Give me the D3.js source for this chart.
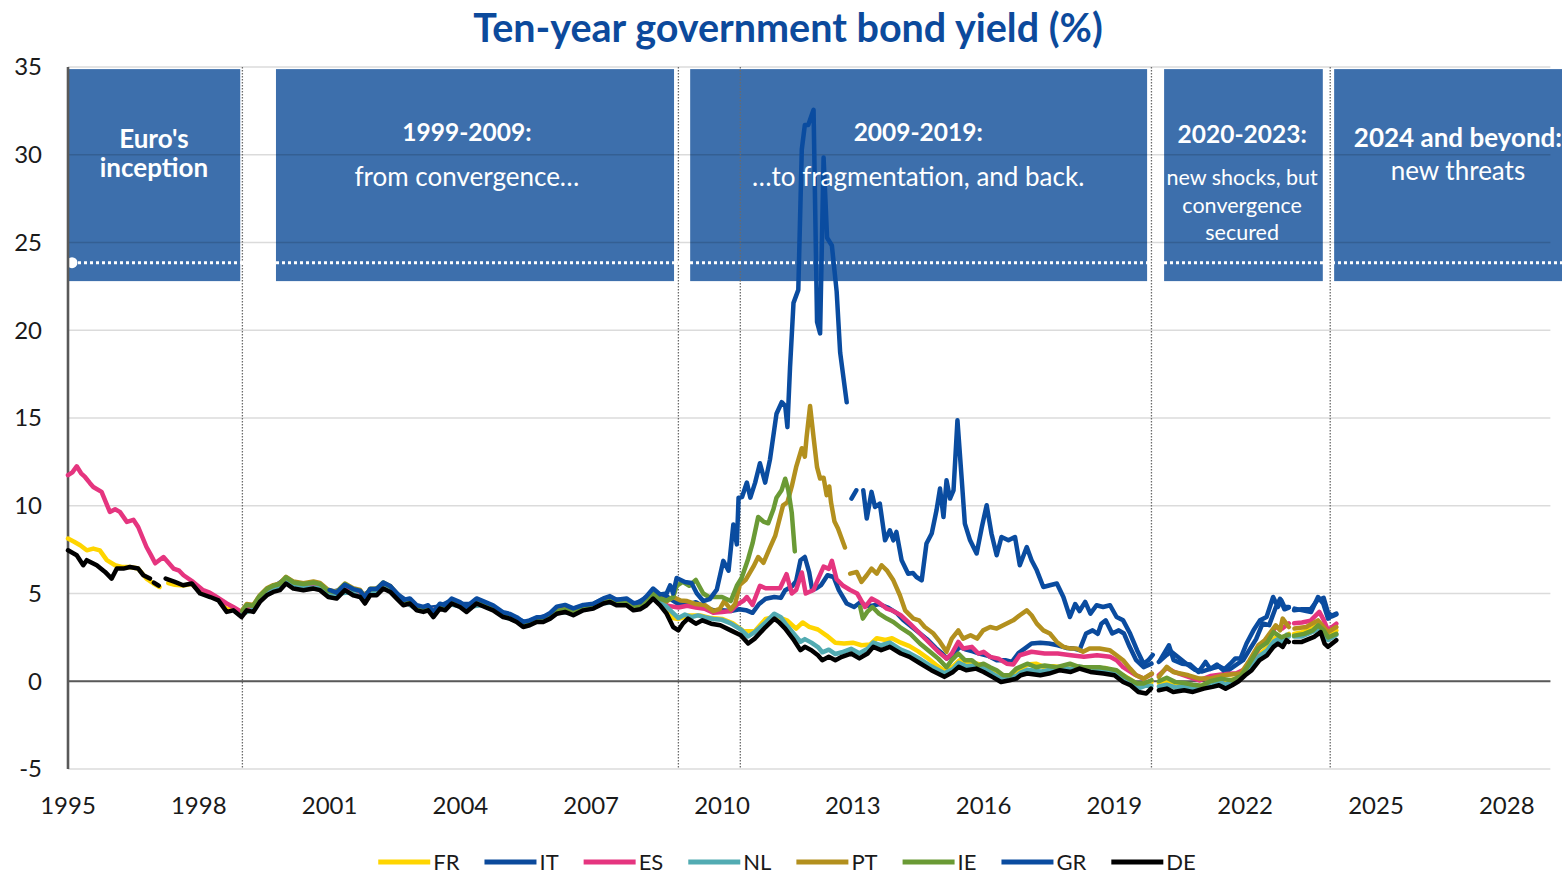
<!DOCTYPE html>
<html>
<head>
<meta charset="utf-8">
<style>
  body { margin: 0; background: #fff; }
  svg text { font-family: Lato, "Open Sans", sans-serif; }
</style>
</head>
<body>
<div id="chart"></div>
<script src="https://cdn.jsdelivr.net/npm/d3@7"></script>
<script>
'use strict';

// ---- data: [year, yield %], null = gap in the source series ----
var FR = [[1995.0,8.13],[1995.14,7.95],[1995.28,7.75],[1995.43,7.46],[1995.58,7.56],[1995.73,7.46],[1995.89,6.9],[1996.08,6.61],[1996.23,6.51],[1996.42,6.51],[1996.61,6.42],[1996.8,5.85],[1996.96,5.57],[1997.1,5.37],[1997.18,null],[1997.3,5.6],[1997.45,5.5],[1997.64,5.45],[1997.84,5.55],[1998.03,5.1],[1998.26,4.88],[1998.45,4.68],[1998.64,4.1],[1998.79,4.12],[1998.98,3.82],
  [1999.25,4.1],[1999.5,4.9],[1999.75,5.27],[2000.0,5.72],[2000.25,5.4],[2000.5,5.35],[2000.75,5.35],[2001.0,4.93],[2001.25,5.05],[2001.5,5.1],[2001.75,4.75],[2002.0,5.05],[2002.25,5.4],[2002.5,4.95],[2002.75,4.55],[2003.0,4.17],[2003.25,4.1],[2003.5,4.15],[2003.75,4.45],[2004.0,4.3],[2004.25,4.3],[2004.5,4.4],[2004.75,4.12],[2005.0,3.72],[2005.25,3.47],[2005.5,3.22],[2005.75,3.45],[2006.0,3.57],[2006.25,3.95],[2006.5,3.92],[2006.75,4.05],[2007.0,4.19],[2007.25,4.47],[2007.5,4.5],[2007.75,4.45],[2008.0,4.15],[2008.25,4.5],[2008.5,4.8],[2008.75,4.1],[2008.88,3.6],
  [2009.0,3.55],[2009.25,3.75],[2009.5,3.75],[2009.75,3.6],[2010.0,3.55],[2010.25,3.3],[2010.5,2.85],[2010.75,2.85],[2011.0,3.55],[2011.25,3.7],[2011.5,3.45],[2011.7,3.0],[2011.85,3.35],[2012.0,3.1],[2012.2,2.95],[2012.4,2.6],[2012.6,2.2],[2012.8,2.15],[2013.0,2.2],[2013.2,2.05],[2013.4,2.1],[2013.55,2.45],[2013.75,2.35],[2013.9,2.45],[2014.1,2.2],[2014.3,2.0],[2014.5,1.7],[2014.7,1.35],[2014.9,0.95],[2015.1,0.6],[2015.3,0.85],[2015.45,1.2],[2015.6,1.05],[2015.85,1.0],[2016.0,0.9],[2016.2,0.55],[2016.4,0.4],[2016.6,0.2],[2016.85,0.7],[2017.0,0.95],[2017.2,1.0],[2017.4,0.8],[2017.6,0.85],[2017.8,0.8],[2018.0,0.85],[2018.2,0.85],[2018.4,0.75],[2018.6,0.7],[2018.8,0.75],[2019.0,0.55],[2019.2,0.35],[2019.4,0.05],[2019.55,-0.3],[2019.7,-0.1],[2019.85,-0.05],[2019.93,null],
  [2020.02,-0.1],[2020.2,0.0],[2020.4,-0.1],[2020.6,-0.15],[2020.8,-0.3],[2021.0,-0.25],[2021.2,-0.05],[2021.4,0.15],[2021.6,0.05],[2021.8,0.15],[2022.0,0.5],[2022.2,1.1],[2022.4,1.7],[2022.55,2.0],[2022.7,2.5],[2022.85,2.5],[2023.0,2.7],[2023.06,null],[2023.12,2.7],[2023.3,2.8],[2023.5,2.95],[2023.7,3.3],[2023.8,3.1],[2023.9,2.6],[2024.09,2.9]];

var IT = [[1999.0,4.0],[1999.25,4.25],[1999.5,5.05],[1999.75,5.42],[2000.0,5.87],[2000.25,5.55],[2000.5,5.5],[2000.75,5.5],[2001.0,5.08],[2001.25,5.2],[2001.5,5.25],[2001.75,4.9],[2002.0,5.2],[2002.25,5.5],[2002.5,5.05],[2002.75,4.62],[2003.0,4.24],[2003.25,4.18],[2003.5,4.25],[2003.75,4.55],[2004.0,4.4],[2004.25,4.4],[2004.5,4.5],[2004.75,4.24],[2005.0,3.85],[2005.25,3.6],[2005.5,3.35],[2005.75,3.6],[2006.0,3.75],[2006.25,4.12],[2006.5,4.1],[2006.75,4.22],[2007.0,4.35],[2007.25,4.65],[2007.5,4.68],[2007.75,4.6],[2008.0,4.4],[2008.25,4.75],[2008.5,5.0],[2008.75,4.8],
  [2009.0,4.4],[2009.2,4.35],[2009.4,4.5],[2009.6,4.2],[2009.8,4.05],[2010.0,4.05],[2010.2,4.0],[2010.4,4.1],[2010.55,4.05],[2010.7,3.9],[2010.85,4.4],[2011.0,4.7],[2011.2,4.8],[2011.35,4.75],[2011.45,5.19],[2011.6,5.4],[2011.7,5.7],[2011.8,6.89],[2011.9,7.08],[2012.0,6.2],[2012.07,5.19],[2012.17,5.3],[2012.27,5.47],[2012.42,6.04],[2012.56,5.94],[2012.68,5.19],[2012.86,4.43],[2013.03,4.23],[2013.18,4.52],[2013.3,4.3],[2013.45,4.3],[2013.6,4.4],[2013.8,4.2],[2014.0,3.9],[2014.15,3.5],[2014.3,3.2],[2014.5,2.8],[2014.7,2.4],[2014.9,1.9],[2015.05,1.58],[2015.15,1.3],[2015.3,1.5],[2015.45,1.96],[2015.6,1.8],[2015.75,1.7],[2015.9,1.58],[2016.1,1.45],[2016.3,1.2],[2016.5,1.2],[2016.65,1.1],[2016.8,1.6],[2016.95,1.87],[2017.1,2.15],[2017.3,2.2],[2017.5,2.15],[2017.7,2.05],[2017.9,1.9],[2018.05,1.87],[2018.2,1.77],[2018.35,2.72],[2018.5,2.9],[2018.62,2.7],[2018.7,3.28],[2018.8,3.47],[2018.95,2.72],[2019.1,2.9],[2019.22,2.72],[2019.35,1.96],[2019.5,1.2],[2019.67,0.8],[2019.85,1.0],[2019.93,null],
  [2020.02,1.1],[2020.2,1.5],[2020.3,1.7],[2020.45,1.4],[2020.65,1.0],[2020.85,0.65],[2021.0,0.55],[2021.2,0.7],[2021.4,0.85],[2021.6,0.6],[2021.8,0.95],[2021.95,1.2],[2022.1,1.8],[2022.25,2.4],[2022.4,3.3],[2022.55,3.2],[2022.7,4.2],[2022.8,4.7],[2022.9,4.1],[2023.0,4.2],[2023.06,null],[2023.12,4.05],[2023.3,4.1],[2023.5,4.1],[2023.65,4.6],[2023.8,4.75],[2023.9,3.9],[2024.0,3.7],[2024.09,3.8]];

var ES = [[1995.0,11.74],[1995.1,11.9],[1995.2,12.25],[1995.3,11.85],[1995.39,11.64],[1995.5,11.3],[1995.58,11.07],[1995.77,10.79],[1995.96,9.65],[1996.08,9.8],[1996.19,9.65],[1996.35,9.08],[1996.5,9.2],[1996.61,8.79],[1996.8,7.65],[1996.9,7.2],[1997.0,6.72],[1997.19,7.08],[1997.42,6.42],[1997.55,6.3],[1997.65,6.04],[1997.87,5.66],[1998.1,5.19],[1998.25,5.05],[1998.41,4.8],[1998.64,4.43],[1998.79,4.23],[1998.98,3.95],[1999.17,4.23],
  [1999.3,4.2],[1999.5,5.0],[1999.75,5.37],[2000.0,5.82],[2000.25,5.5],[2000.5,5.45],[2000.75,5.45],[2001.0,5.03],[2001.25,5.15],[2001.5,5.2],[2001.75,4.85],[2002.0,5.15],[2002.25,5.5],[2002.5,5.03],[2002.75,4.5],[2003.0,4.12],[2003.25,4.06],[2003.5,4.13],[2003.75,4.43],[2004.0,4.28],[2004.25,4.28],[2004.5,4.38],[2004.75,4.12],[2005.0,3.73],[2005.25,3.48],[2005.5,3.23],[2005.75,3.46],[2006.0,3.58],[2006.25,3.96],[2006.5,3.93],[2006.75,4.06],[2007.0,4.2],[2007.25,4.48],[2007.5,4.52],[2007.75,4.45],[2008.0,4.2],[2008.25,4.55],[2008.5,4.85],[2008.75,4.3],
  [2009.0,4.2],[2009.2,4.3],[2009.4,4.2],[2009.6,4.13],[2009.8,3.9],[2010.0,3.95],[2010.2,4.0],[2010.34,4.35],[2010.5,4.6],[2010.57,4.8],[2010.7,4.35],[2010.87,5.44],[2011.0,5.3],[2011.33,5.3],[2011.48,6.1],[2011.6,5.0],[2011.7,5.2],[2011.83,6.2],[2011.92,5.0],[2012.1,5.2],[2012.2,5.8],[2012.33,6.53],[2012.45,6.4],[2012.52,6.86],[2012.63,5.8],[2012.78,5.44],[2012.94,5.2],[2013.1,5.0],[2013.28,4.23],[2013.43,4.71],[2013.58,4.52],[2013.78,4.14],[2013.9,4.04],[2014.1,3.76],[2014.31,3.28],[2014.54,2.72],[2014.77,2.15],[2014.96,1.68],[2015.15,1.29],[2015.27,1.58],[2015.42,2.24],[2015.53,1.87],[2015.73,1.96],[2015.88,1.58],[2016.0,1.68],[2016.15,1.39],[2016.34,1.29],[2016.53,1.0],[2016.68,0.95],[2016.83,1.48],[2017.1,1.68],[2017.4,1.58],[2017.7,1.58],[2018.0,1.48],[2018.3,1.39],[2018.6,1.48],[2018.9,1.39],[2019.05,1.2],[2019.2,0.8],[2019.45,0.4],[2019.67,0.15],[2019.85,0.4],[2019.93,null],
  [2020.02,0.35],[2020.2,0.75],[2020.4,0.5],[2020.7,0.25],[2020.95,0.05],[2021.2,0.3],[2021.5,0.4],[2021.8,0.45],[2022.0,0.7],[2022.2,1.4],[2022.4,2.2],[2022.55,2.5],[2022.7,3.1],[2022.85,3.0],[2023.0,3.3],[2023.06,null],[2023.12,3.3],[2023.3,3.35],[2023.5,3.45],[2023.7,3.95],[2023.8,3.5],[2023.9,2.9],[2024.09,3.28]];

var NL = [[1999.0,3.85],[1999.25,4.08],[1999.5,4.88],[1999.75,5.25],[2000.0,5.7],[2000.25,5.38],[2000.5,5.33],[2000.75,5.33],[2001.0,4.9],[2001.25,5.02],[2001.5,5.07],[2001.75,4.72],[2002.0,5.02],[2002.25,5.37],[2002.5,4.92],[2002.75,4.5],[2003.0,4.1],[2003.25,4.04],[2003.5,4.1],[2003.75,4.4],[2004.0,4.26],[2004.25,4.26],[2004.5,4.35],[2004.75,4.1],[2005.0,3.7],[2005.25,3.45],[2005.5,3.2],[2005.75,3.43],[2006.0,3.55],[2006.25,3.93],[2006.5,3.9],[2006.75,4.03],[2007.0,4.17],[2007.25,4.45],[2007.5,4.48],[2007.75,4.42],[2008.0,4.15],[2008.25,4.5],[2008.5,4.8],[2008.75,4.2],
  [2009.0,3.6],[2009.15,3.8],[2009.3,3.65],[2009.45,3.75],[2009.6,3.65],[2009.8,3.55],[2010.0,3.5],[2010.2,3.3],[2010.43,2.95],[2010.6,2.55],[2010.75,2.8],[2011.0,3.35],[2011.2,3.85],[2011.35,3.65],[2011.45,3.3],[2011.65,2.7],[2011.8,2.25],[2011.9,2.4],[2012.05,2.2],[2012.2,1.95],[2012.3,1.65],[2012.45,1.8],[2012.6,1.55],[2012.75,1.65],[2012.96,1.85],[2013.15,1.6],[2013.34,1.85],[2013.47,2.2],[2013.65,2.05],[2013.85,2.2],[2014.1,1.8],[2014.3,1.6],[2014.55,1.25],[2014.8,0.85],[2015.1,0.45],[2015.3,0.7],[2015.43,1.05],[2015.6,0.85],[2015.83,0.9],[2016.0,0.75],[2016.2,0.45],[2016.4,0.15],[2016.6,0.2],[2016.75,0.3],[2016.85,0.5],[2017.0,0.65],[2017.3,0.55],[2017.5,0.65],[2017.75,0.8],[2018.0,0.7],[2018.2,0.85],[2018.45,0.7],[2018.75,0.6],[2019.0,0.5],[2019.2,0.15],[2019.37,-0.05],[2019.55,-0.4],[2019.72,-0.25],[2019.85,-0.25],[2019.93,null],
  [2020.02,-0.3],[2020.2,-0.2],[2020.4,-0.35],[2020.6,-0.3],[2020.8,-0.45],[2021.05,-0.25],[2021.2,-0.15],[2021.4,0.0],[2021.55,-0.2],[2021.7,0.0],[2021.85,0.15],[2022.0,0.5],[2022.15,0.85],[2022.33,1.45],[2022.5,1.75],[2022.65,2.25],[2022.75,2.4],[2022.86,2.25],[2022.95,2.65],[2023.0,2.55],[2023.06,null],[2023.12,2.55],[2023.3,2.55],[2023.58,2.85],[2023.73,3.1],[2023.82,2.5],[2023.9,2.35],[2024.09,2.65]];

var PT = [[1999.0,4.05],[1999.1,4.4],[1999.25,4.35],[1999.4,4.9],[1999.56,5.3],[1999.71,5.48],[1999.86,5.58],[2000.0,5.95],[2000.17,5.68],[2000.4,5.58],[2000.63,5.68],[2000.78,5.6],[2000.97,5.2],[2001.16,5.1],[2001.35,5.57],[2001.54,5.3],[2001.7,5.2],[2001.81,4.82],[2001.93,5.27],[2002.08,5.27],[2002.23,5.6],[2002.39,5.43],[2002.54,5.0],[2002.69,4.6],[2002.84,4.65],[2003.0,4.25],[2003.15,4.14],[2003.26,4.24],[2003.38,3.85],[2003.53,4.33],[2003.65,4.24],[2003.8,4.63],[2003.99,4.42],[2004.14,4.14],[2004.37,4.63],[2004.56,4.42],[2004.75,4.22],[2004.98,3.84],[2005.13,3.75],[2005.29,3.55],[2005.44,3.25],[2005.59,3.35],[2005.75,3.55],[2005.9,3.55],[2006.06,3.75],[2006.21,4.02],[2006.4,4.12],[2006.59,3.93],[2006.82,4.2],[2007.05,4.3],[2007.28,4.6],[2007.43,4.7],[2007.58,4.52],[2007.81,4.55],[2007.97,4.3],[2008.12,4.3],[2008.27,4.65],[2008.42,5.0],[2008.58,4.75],[2008.73,4.55],[2008.88,4.8],
  [2009.05,4.6],[2009.2,4.57],[2009.4,4.4],[2009.6,4.35],[2009.8,4.0],[2009.95,4.13],[2010.05,4.57],[2010.2,4.1],[2010.3,4.4],[2010.41,5.5],[2010.55,5.8],[2010.72,6.53],[2010.83,7.08],[2010.95,6.75],[2011.1,7.62],[2011.22,8.28],[2011.4,10.02],[2011.5,10.2],[2011.6,11.1],[2011.7,12.2],[2011.83,13.28],[2011.9,12.8],[2011.94,13.9],[2012.02,15.68],[2012.1,13.9],[2012.18,12.2],[2012.25,11.55],[2012.33,11.6],[2012.4,10.6],[2012.46,11.1],[2012.5,10.2],[2012.58,9.1],[2012.66,8.7],[2012.82,7.62],[2012.88,null],
  [2012.94,6.13],[2013.09,6.23],[2013.2,5.66],[2013.32,6.04],[2013.43,6.42],[2013.55,6.13],[2013.66,6.61],[2013.78,6.32],[2013.93,5.75],[2014.08,4.9],[2014.2,4.04],[2014.39,3.57],[2014.52,3.47],[2014.65,3.09],[2014.85,2.72],[2015.0,2.24],[2015.15,1.68],[2015.27,2.43],[2015.42,2.9],[2015.53,2.43],[2015.7,2.62],[2015.85,2.43],[2015.99,2.9],[2016.15,3.09],[2016.3,3.0],[2016.45,3.19],[2016.68,3.47],[2016.83,3.76],[2016.99,4.04],[2017.1,3.76],[2017.22,3.28],[2017.37,2.9],[2017.52,2.72],[2017.68,2.24],[2017.83,1.96],[2017.98,1.87],[2018.13,1.87],[2018.28,1.68],[2018.43,1.87],[2018.66,1.87],[2018.89,1.77],[2019.05,1.48],[2019.2,1.2],[2019.36,0.72],[2019.5,0.34],[2019.67,0.15],[2019.86,0.44],[2019.93,null],
  [2020.02,0.25],[2020.2,0.82],[2020.35,0.53],[2020.7,0.34],[2020.95,0.15],[2021.2,0.15],[2021.5,0.34],[2021.9,0.44],[2022.1,1.2],[2022.3,2.05],[2022.45,2.34],[2022.7,3.19],[2022.8,2.9],[2022.86,3.57],[2023.0,3.09],[2023.06,null],[2023.13,3.0],[2023.4,3.09],[2023.67,3.47],[2023.9,2.8],[2024.09,3.09]];

var IE = [[1999.0,4.0],[1999.1,4.35],[1999.25,4.3],[1999.4,4.87],[1999.56,5.25],[1999.71,5.44],[1999.86,5.54],[2000.0,5.92],[2000.17,5.63],[2000.4,5.54],[2000.63,5.63],[2000.78,5.54],[2000.97,5.15],[2001.16,5.06],[2001.35,5.54],[2001.54,5.25],[2001.7,5.15],[2001.81,4.78],[2001.93,5.25],[2002.08,5.25],[2002.23,5.63],[2002.39,5.4],[2002.54,4.95],[2002.69,4.55],[2002.84,4.62],[2003.0,4.22],[2003.15,4.12],[2003.26,4.2],[2003.38,3.82],[2003.53,4.3],[2003.65,4.2],[2003.8,4.58],[2003.99,4.38],[2004.14,4.1],[2004.37,4.58],[2004.56,4.38],[2004.75,4.19],[2004.98,3.8],[2005.13,3.71],[2005.29,3.52],[2005.44,3.22],[2005.59,3.32],[2005.75,3.5],[2005.9,3.5],[2006.06,3.7],[2006.21,3.98],[2006.4,4.08],[2006.59,3.89],[2006.82,4.16],[2007.05,4.26],[2007.28,4.55],[2007.43,4.65],[2007.58,4.48],[2007.81,4.5],[2007.97,4.25],[2008.12,4.2],[2008.27,4.6],[2008.42,5.0],[2008.58,4.7],[2008.73,4.6],[2008.88,4.8],
  [2008.96,5.44],[2009.1,5.66],[2009.25,5.44],[2009.4,5.77],[2009.57,5.0],[2009.7,4.8],[2010.0,4.8],[2010.2,4.57],[2010.34,5.44],[2010.45,5.88],[2010.6,6.97],[2010.7,7.85],[2010.83,9.36],[2010.95,9.1],[2011.06,9.0],[2011.18,9.8],[2011.25,10.46],[2011.37,10.9],[2011.45,11.54],[2011.52,10.9],[2011.6,9.6],[2011.67,7.4],[2011.72,null],
  [2013.17,4.23],[2013.23,3.57],[2013.33,3.95],[2013.45,4.23],[2013.6,3.85],[2013.78,3.57],[2013.93,3.38],[2014.08,3.09],[2014.31,2.72],[2014.54,2.15],[2014.77,1.68],[2014.96,1.29],[2015.15,0.8],[2015.27,1.2],[2015.42,1.58],[2015.57,1.2],[2015.73,1.2],[2015.88,0.9],[2016.0,1.0],[2016.15,0.8],[2016.3,0.63],[2016.45,0.34],[2016.6,0.34],[2016.75,0.72],[2017.0,1.0],[2017.2,0.8],[2017.4,0.9],[2017.68,0.8],[2017.98,1.0],[2018.2,0.8],[2018.43,0.8],[2018.66,0.8],[2018.86,0.72],[2019.05,0.63],[2019.25,0.25],[2019.52,-0.13],[2019.67,-0.13],[2019.85,0.06],[2019.93,null],
  [2020.02,0.0],[2020.2,0.2],[2020.4,-0.05],[2020.6,-0.1],[2020.8,-0.2],[2021.0,-0.25],[2021.2,0.0],[2021.45,0.15],[2021.7,0.05],[2021.9,0.3],[2022.05,0.82],[2022.3,1.86],[2022.5,2.2],[2022.65,2.8],[2022.83,2.5],[2023.0,2.65],[2023.06,null],[2023.12,2.6],[2023.35,2.7],[2023.55,2.9],[2023.67,3.19],[2023.8,2.9],[2023.9,2.5],[2024.09,2.7]];

var GR = [[2001.0,5.2],[2001.16,5.05],[2001.35,5.5],[2001.54,5.25],[2001.7,5.15],[2001.81,4.8],[2001.93,5.25],[2002.08,5.25],[2002.23,5.62],[2002.39,5.42],[2002.54,5.02],[2002.69,4.63],[2002.84,4.72],[2003.0,4.33],[2003.15,4.24],[2003.26,4.33],[2003.38,3.94],[2003.53,4.42],[2003.65,4.33],[2003.8,4.71],[2003.99,4.51],[2004.14,4.24],[2004.37,4.72],[2004.56,4.52],[2004.75,4.33],[2004.98,3.93],[2005.13,3.84],[2005.29,3.65],[2005.44,3.38],[2005.59,3.47],[2005.75,3.65],[2005.9,3.66],[2006.06,3.9],[2006.21,4.25],[2006.4,4.35],[2006.59,4.15],[2006.82,4.35],[2007.05,4.42],[2007.28,4.72],[2007.43,4.85],[2007.58,4.65],[2007.81,4.72],[2007.97,4.45],[2008.12,4.5],[2008.27,4.85],[2008.42,5.28],[2008.58,4.95],[2008.73,5.0],[2008.81,5.47],[2008.88,5.0],[2008.96,5.88],
  [2009.15,5.66],[2009.3,5.6],[2009.42,5.01],[2009.57,4.57],[2009.72,4.68],[2009.88,5.22],[2010.03,6.86],[2010.15,6.3],[2010.26,8.93],[2010.34,7.8],[2010.38,10.46],[2010.46,10.5],[2010.57,11.32],[2010.65,10.46],[2010.76,11.32],[2010.87,12.42],[2010.99,11.32],[2011.1,12.63],[2011.25,15.24],[2011.37,15.9],[2011.45,15.7],[2011.5,14.48],[2011.56,17.86],[2011.64,21.56],[2011.75,22.3],[2011.83,30.3],[2011.9,31.7],[2011.98,31.7],[2012.02,32.0],[2012.1,32.56],[2012.18,20.47],[2012.25,19.82],[2012.33,29.84],[2012.41,25.27],[2012.52,24.83],[2012.63,22.2],[2012.71,18.73],[2012.86,15.9],[2012.92,null],
  [2012.97,10.41],[2013.08,10.88],[2013.15,null],[2013.24,10.88],[2013.32,9.27],[2013.43,10.79],[2013.51,9.93],[2013.62,10.12],[2013.74,8.03],[2013.85,8.6],[2013.93,8.03],[2014.0,8.51],[2014.12,6.89],[2014.27,6.13],[2014.38,6.17],[2014.46,5.94],[2014.58,5.75],[2014.69,7.85],[2014.81,8.42],[2014.92,9.74],[2015.0,10.98],[2015.08,9.36],[2015.15,11.45],[2015.23,10.41],[2015.31,10.88],[2015.4,14.87],[2015.5,11.45],[2015.57,8.98],[2015.69,8.03],[2015.84,7.28],[2015.96,8.79],[2016.07,10.03],[2016.18,8.42],[2016.3,7.18],[2016.41,8.22],[2016.57,8.03],[2016.72,8.22],[2016.83,6.61],[2016.99,7.65],[2017.1,6.9],[2017.22,6.32],[2017.37,5.37],[2017.52,5.47],[2017.68,5.57],[2017.83,4.8],[2017.98,3.66],[2018.1,4.4],[2018.2,4.0],[2018.33,4.52],[2018.45,3.85],[2018.59,4.33],[2018.74,4.23],[2018.9,4.33],[2019.05,3.66],[2019.2,3.47],[2019.36,2.72],[2019.52,1.77],[2019.67,1.0],[2019.78,1.2],[2019.88,1.5],[2019.93,null],
  [2020.05,1.2],[2020.25,2.05],[2020.36,1.2],[2020.55,1.0],[2020.74,0.95],[2020.93,0.53],[2021.09,1.1],[2021.2,0.7],[2021.35,0.95],[2021.5,0.63],[2021.66,1.0],[2021.77,1.29],[2021.89,1.29],[2022.03,2.15],[2022.19,2.9],[2022.34,3.47],[2022.49,3.66],[2022.64,4.8],[2022.75,4.23],[2022.83,4.61],[2022.9,4.23],[2023.0,4.23],[2023.06,null],[2023.13,4.14],[2023.32,4.04],[2023.51,3.95],[2023.67,4.8],[2023.79,4.43],[2023.9,3.57],[2024.0,3.76],[2024.09,3.85]];

var DE = [[1995.0,7.46],[1995.2,7.18],[1995.35,6.61],[1995.43,6.9],[1995.66,6.61],[1995.85,6.23],[1996.0,5.85],[1996.12,6.42],[1996.27,6.42],[1996.42,6.51],[1996.61,6.42],[1996.73,6.04],[1996.88,5.85],[1996.92,null],[1996.97,5.62],[1997.08,5.45],[1997.16,null],[1997.24,5.85],[1997.45,5.66],[1997.64,5.47],[1997.84,5.57],[1998.03,5.0],[1998.26,4.8],[1998.45,4.61],[1998.64,3.95],[1998.79,4.04],[1998.98,3.66],
  [1999.1,4.04],[1999.25,3.95],[1999.4,4.52],[1999.56,4.9],[1999.71,5.09],[1999.86,5.19],[2000.0,5.57],[2000.17,5.28],[2000.4,5.19],[2000.63,5.28],[2000.78,5.19],[2000.97,4.8],[2001.16,4.71],[2001.35,5.19],[2001.54,4.9],[2001.7,4.8],[2001.81,4.43],[2001.93,4.9],[2002.08,4.9],[2002.23,5.28],[2002.39,5.09],[2002.54,4.71],[2002.69,4.33],[2002.84,4.43],[2003.0,4.04],[2003.15,3.95],[2003.26,4.04],[2003.38,3.66],[2003.53,4.14],[2003.65,4.04],[2003.8,4.43],[2003.99,4.23],[2004.14,3.95],[2004.37,4.43],[2004.56,4.23],[2004.75,4.04],[2004.98,3.66],[2005.13,3.57],[2005.29,3.38],[2005.44,3.09],[2005.59,3.19],[2005.75,3.38],[2005.9,3.38],[2006.06,3.57],[2006.21,3.85],[2006.4,3.95],[2006.59,3.76],[2006.82,4.04],[2007.05,4.14],[2007.28,4.43],[2007.43,4.52],[2007.58,4.33],[2007.81,4.33],[2007.97,4.04],[2008.12,4.1],[2008.27,4.33],[2008.42,4.71],[2008.58,4.33],[2008.73,3.85],[2008.88,3.09],
  [2009.0,2.9],[2009.1,3.28],[2009.22,3.57],[2009.4,3.28],[2009.55,3.47],[2009.75,3.28],[2009.96,3.19],[2010.2,2.9],[2010.43,2.62],[2010.6,2.15],[2010.75,2.43],[2011.0,3.09],[2011.2,3.57],[2011.3,3.38],[2011.45,3.0],[2011.65,2.34],[2011.8,1.77],[2011.9,1.96],[2012.05,1.77],[2012.2,1.48],[2012.3,1.2],[2012.45,1.39],[2012.6,1.2],[2012.75,1.39],[2012.96,1.58],[2013.15,1.3],[2013.34,1.58],[2013.47,1.96],[2013.65,1.77],[2013.85,1.96],[2014.1,1.58],[2014.3,1.39],[2014.55,1.01],[2014.8,0.63],[2015.1,0.25],[2015.3,0.53],[2015.43,0.82],[2015.6,0.63],[2015.83,0.72],[2016.0,0.53],[2016.2,0.25],[2016.4,-0.04],[2016.6,0.06],[2016.75,0.15],[2016.85,0.34],[2017.0,0.44],[2017.3,0.34],[2017.5,0.44],[2017.75,0.63],[2018.0,0.53],[2018.2,0.72],[2018.45,0.53],[2018.75,0.44],[2019.0,0.34],[2019.2,-0.04],[2019.37,-0.23],[2019.55,-0.61],[2019.73,-0.7],[2019.84,-0.42],[2019.93,null],
  [2020.02,-0.51],[2020.2,-0.42],[2020.35,-0.61],[2020.6,-0.51],[2020.8,-0.61],[2021.05,-0.42],[2021.25,-0.32],[2021.4,-0.23],[2021.55,-0.42],[2021.7,-0.23],[2021.85,0.0],[2022.0,0.34],[2022.15,0.63],[2022.33,1.2],[2022.5,1.48],[2022.65,1.96],[2022.75,2.15],[2022.86,1.96],[2022.95,2.34],[2023.0,2.24],[2023.06,null],[2023.12,2.24],[2023.3,2.24],[2023.58,2.53],[2023.73,2.8],[2023.82,2.15],[2023.9,1.96],[2024.09,2.34]];

var countries = ['FR', 'IT', 'ES', 'NL', 'PT', 'IE', 'GR', 'DE'];
var seriesValues = { FR: FR, IT: IT, ES: ES, NL: NL, PT: PT, IE: IE, GR: GR, DE: DE };
var colors = { FR: '#ffd500', IT: '#0b4a9c', ES: '#e5357f', NL: '#52abb2', PT: '#b3901e', IE: '#6a9a35', GR: '#0a4ca0', DE: '#000000' };

var xTicks = [1995, 1998, 2001, 2004, 2007, 2010, 2013, 2016, 2019, 2022, 2025, 2028];
var yTicks = [-5, 0, 5, 10, 15, 20, 25, 30, 35];

// phase boundaries (dotted verticals)
var phaseLines = [1999.0, 2009.0, 2010.42, 2019.85, 2023.95];

// blue annotation boxes: [text, bold, centre y, font px]
var periods = [
  { from: 1995.0,  to: 1998.95, at: 1996.97, lines: [['Euro\'s', 1, 139, 26], ['inception', 1, 168, 26]] },
  { from: 1999.77, to: 2008.9,  at: 2004.15, lines: [['1999-2009:', 1, 132, 24.5], ['from convergence\u2026', 0, 177, 26]] },
  { from: 2009.27, to: 2019.75, at: 2014.5,  lines: [['2009-2019:', 1, 132, 24.5], ['\u2026to fragmentation, and back.', 0, 177, 26]] },
  { from: 2020.14, to: 2023.78, at: 2021.93, lines: [['2020-2023:', 1, 134, 24.5], ['new shocks, but', 0, 177, 21.5], ['convergence', 0, 205, 21.5], ['secured', 0, 232, 21.5]] },
  { from: 2024.04, to: 2029.4,  at: 2026.88, lines: [['2024 and beyond:', 1, 138, 26], ['new threats', 0, 171, 26]] }
];

var width = 1562, height = 875;

var svg = d3.select('#chart').append('svg')
  .attr('width', width).attr('height', height)
  .style('display', 'block');

var x = d3.scaleLinear().domain([1995, 2029]).range([68, 1550.4]);
var y = d3.scaleLinear().domain([-5, 35]).range([769, 67]);

// title
svg.append('text')
  .attr('x', 788).attr('y', 28).attr('dy', '0.35em')
  .attr('text-anchor', 'middle')
  .style('font-size', '39.5px').style('font-weight', 700)
  .style('fill', '#0c4a9c')
  .text('Ten-year government bond yield (%)');

// boxes
svg.append('g').selectAll('rect').data(periods).join('rect')
  .attr('x', function(d) { return x(d.from); })
  .attr('width', function(d) { return x(d.to) - x(d.from); })
  .attr('y', y(34.88))
  .attr('height', y(22.8) - y(34.88))
  .style('fill', '#3d6fac');

// gridlines (drawn over boxes with low alpha, so they tint the boxes too)
svg.append('g').selectAll('line').data(yTicks).join('line')
  .attr('x1', x(1995)).attr('x2', x(2029))
  .attr('y1', function(d) { return y(d); }).attr('y2', function(d) { return y(d); })
  .style('stroke', '#000').style('stroke-opacity', 0.14).style('stroke-width', 1.3);

// phase separators
svg.append('g').selectAll('line').data(phaseLines).join('line')
  .attr('x1', function(d) { return x(d); }).attr('x2', function(d) { return x(d); })
  .attr('y1', y(35)).attr('y2', y(-5))
  .style('stroke', '#6b6b6b').style('stroke-width', 1.3)
  .style('stroke-dasharray', '1.5,1.5');

// white dotted rule through the boxes
svg.append('line')
  .attr('x1', 72).attr('x2', width)
  .attr('y1', y(23.85)).attr('y2', y(23.85))
  .style('stroke', '#fff').style('stroke-width', 3)
  .style('stroke-dasharray', '3,3');
svg.append('circle')
  .attr('cx', 72).attr('cy', y(23.85)).attr('r', 5.5)
  .style('fill', '#fff');

// axes
svg.append('line')
  .attr('x1', x(1995)).attr('x2', x(2029))
  .attr('y1', y(0)).attr('y2', y(0))
  .style('stroke', '#595959').style('stroke-width', 2.2);
svg.append('line')
  .attr('x1', x(1995)).attr('x2', x(1995))
  .attr('y1', y(35)).attr('y2', y(-5))
  .style('stroke', '#595959').style('stroke-width', 2.6);

svg.append('g').selectAll('text').data(yTicks).join('text')
  .attr('x', 42).attr('y', function(d) { return y(d); }).attr('dy', '0.35em')
  .attr('text-anchor', 'end')
  .style('font-size', '24px').style('fill', '#1a1a1a')
  .text(function(d) { return d; });

svg.append('g').selectAll('text').data(xTicks).join('text')
  .attr('x', function(d) { return x(d); }).attr('y', 806).attr('dy', '0.35em')
  .attr('text-anchor', 'middle')
  .style('font-size', '24px').style('fill', '#1a1a1a')
  .text(function(d) { return d; });

// series
var line = d3.line()
  .defined(function(d) { return d[1] !== null; })
  .x(function(d) { return x(d[0]); })
  .y(function(d) { return y(d[1]); });

svg.append('g').selectAll('path').data(countries).join('path')
  .attr('d', function(c) { return line(seriesValues[c]); })
  .style('fill', 'none')
  .style('stroke', function(c) { return colors[c]; })
  .style('stroke-width', 4.5)
  .style('stroke-linejoin', 'round')
  .style('stroke-linecap', 'round');

// box texts
var tg = svg.append('g');
periods.forEach(function(p) {
  p.lines.forEach(function(l) {
    tg.append('text')
      .attr('x', x(p.at)).attr('y', l[2]).attr('dy', '0.35em')
      .attr('text-anchor', 'middle')
      .style('font-size', l[3] + 'px')
      .style('font-weight', l[1] ? 700 : 400)
      .style('fill', '#fff')
      .text(l[0]);
  });
});

// legend
var legend = svg.append('g');
var cursor = 0;
var gap = 25;
countries.forEach(function(c) {
  var item = legend.append('g').attr('transform', 'translate(' + cursor + ',0)');
  item.append('line')
    .attr('x1', 0).attr('x2', 52).attr('y1', 862).attr('y2', 862)
    .style('stroke', colors[c]).style('stroke-width', 5);
  var t = item.append('text')
    .attr('x', 55).attr('y', 862).attr('dy', '0.35em')
    .style('font-size', '22px').style('fill', '#1a1a1a')
    .text(c);
  cursor += 55 + t.node().getComputedTextLength() + gap;
});
var total = cursor - gap;
legend.attr('transform', 'translate(' + (787 - total / 2) + ',0)');
</script>
</body>
</html>
